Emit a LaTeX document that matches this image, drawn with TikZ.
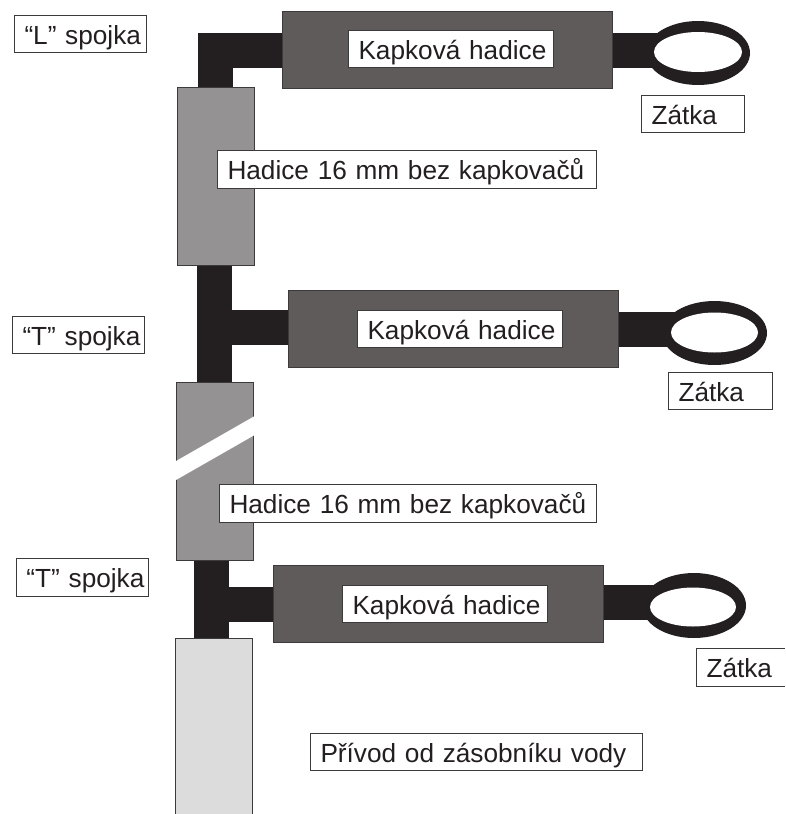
\documentclass[tikz,border=0pt]{standalone}
\usepackage{fontspec}
\usetikzlibrary{backgrounds}
\setmainfont{Liberation Sans}
\definecolor{ink}{HTML}{231F20}
\definecolor{edge}{HTML}{3C3A3A}
\definecolor{hosegray}{HTML}{949293}
\definecolor{dripgray}{HTML}{5F5B5B}
\definecolor{feedgray}{HTML}{DCDCDC}
\tikzset{
  part/.style={draw=edge,line width=0.8pt,inner sep=0pt,outer sep=0pt,anchor=north west},
  hosepart/.style={part,fill=hosegray},
  drippart/.style={part,fill=dripgray},
  feedpart/.style={part,fill=feedgray,draw=none},
  labelbox/.style={part,fill=white,text=ink,inner xsep=10.5pt,inner ysep=0pt,align=left,
     font=\fontsize{26.2}{28}\selectfont},
  openbox/.style={labelbox,draw=none},
  pipe/.style={draw=ink,line width=35pt,line cap=butt},
  plugring/.style={fill=ink,draw=none},
  plughole/.style={fill=white,draw=none},
  edgeline/.style={draw=edge,line width=0.8pt}
}
% \shapenode{style}{name}{x1}{y1}{x2}{y2}
\newcommand{\shapenode}[6]{%
  \pgfmathsetmacro{\boxw}{#5-#3}\pgfmathsetmacro{\boxh}{#6-#4}%
  \node[#1,minimum width=\boxw pt,minimum height=\boxh pt] (#2) at (#3,#4) {};}
% \labelnode{style}{name}{x1}{y1}{x2}{y2}{text}
\newcommand{\labelnode}[7]{%
  \pgfmathsetmacro{\boxw}{#5-#3-21}\pgfmathsetmacro{\boxh}{#6-#4-29}%
  \node[#1,text width=\boxw pt,text height=29pt,text depth=\boxh pt] (#2) at (#3,#4) {\mbox{#7}};}
\begin{document}
\begin{tikzpicture}[x=1pt,y=-1pt]
\useasboundingbox (0,0) rectangle (785,814);
% named pipe ends
\coordinate (elbow) at (215.5,50.5);
\coordinate (teeA) at (214,327);
\coordinate (teeB) at (211.5,604.5);
\coordinate (plugA) at (665,50);
\coordinate (plugB) at (682,329.5);
\coordinate (plugC) at (660,602);
% hoses
\shapenode{drippart}{dripA}{282}{11}{612}{88}
\shapenode{drippart}{dripB}{288}{290}{618}{367}
\shapenode{drippart}{dripC}{273}{565}{603}{642}
\shapenode{hosepart}{hoseA}{177}{87}{254}{265}
\shapenode{hosepart}{hoseB}{176}{382}{253}{560}
\shapenode{feedpart}{feed}{175}{638}{252}{814}
\draw[edgeline] (feed.south west) -- (feed.north west) -- (feed.north east) -- (feed.south east);
% pipes and couplers behind the hoses
\begin{scope}[on background layer]
\fill[plugring] (698,53) ellipse [x radius=52,y radius=32];
\fill[plugring] (714.5,333) ellipse [x radius=52.5,y radius=32];
\fill[plugring] (694,605.5) ellipse [x radius=52,y radius=32.5];
\draw[pipe] (dripA.east |- plugA) -- (plugA);
\draw[pipe] (dripB.east |- plugB) -- (plugB);
\draw[pipe] (dripC.east |- plugC) -- (plugC);
\fill[plughole] (698,52) ellipse [x radius=44,y radius=20];
\fill[plughole] (714.5,332.5) ellipse [x radius=43.5,y radius=20];
\fill[plughole] (693,607) ellipse [x radius=43,y radius=19.5];
\draw[pipe,line join=miter] (elbow |- hoseA.north) -- (elbow) -- (elbow -| dripA.west);
\draw[pipe] (teeA |- hoseA.south) -- (teeA |- hoseB.north);
\draw[pipe] (teeA) -- (teeA -| dripB.west);
\draw[pipe] (teeB |- hoseB.south) -- (teeB |- feed.north);
\draw[pipe] (teeB) -- (teeB -| dripC.west);
\end{scope}
% break in the hose
\fill[white] (172,463.3) -- (257,414.7) -- (257,433.7) -- (172,482.3) -- cycle;
% labels
\labelnode{labelbox}{lblL}{14}{15}{146}{52}{“L” spojka}
\labelnode{labelbox}{lblTa}{12}{316}{144}{353}{“T” spojka}
\labelnode{labelbox}{lblTb}{16}{558}{148}{596}{“T” spojka}
\labelnode{labelbox}{kapA}{348}{30}{553}{67}{Kapková hadice}
\labelnode{labelbox}{kapB}{357}{310}{562}{347}{Kapková hadice}
\labelnode{labelbox}{kapC}{342}{585}{547}{622}{Kapková hadice}
\labelnode{labelbox}{hadA}{217}{150}{596}{188}{Hadice 16 mm bez kapkovačů}
\labelnode{labelbox}{hadB}{219}{484}{596}{522}{Hadice 16 mm bez kapkovačů}
\labelnode{labelbox}{zatA}{641}{95}{744}{132}{Zátka}
\labelnode{labelbox}{zatB}{668}{372}{772}{409}{Zátka}
\labelnode{openbox}{zatC}{696}{648}{785}{686}{Zátka}
\draw[edgeline] (zatC.north east) -- (zatC.north west) -- (zatC.south west) -- (zatC.south east);
\labelnode{labelbox}{privod}{310}{733}{642}{770}{Přívod od zásobníku vody}
\end{tikzpicture}
\end{document}
